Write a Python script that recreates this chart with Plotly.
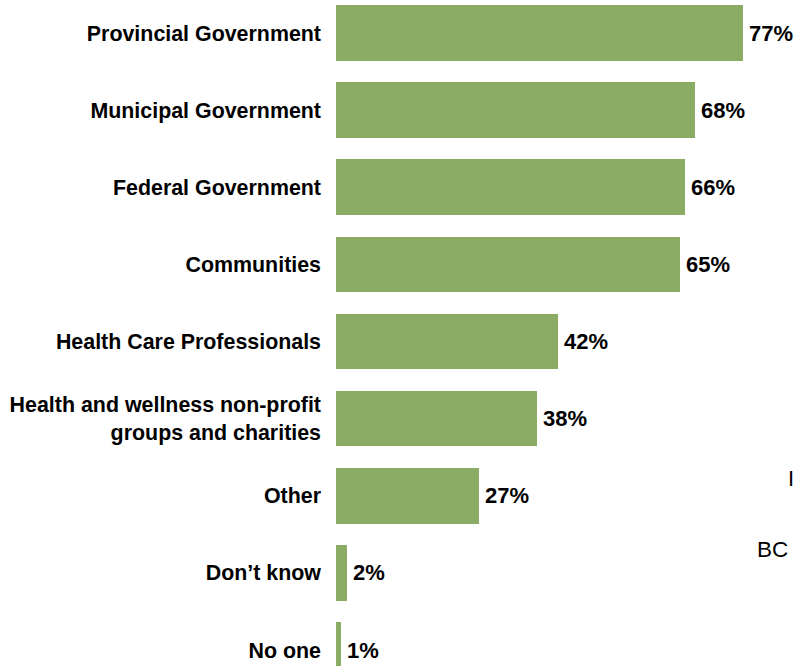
import plotly.graph_objects as go

# Who should be responsible — share of respondents naming each group
categories = [
    "Provincial Government",
    "Municipal Government",
    "Federal Government",
    "Communities",
    "Health Care Professionals",
    "Health and wellness non-profit<br>groups and charities",
    "Other",
    "Don\u2019t know",
    "No one",
]
values = [77, 68, 66, 65, 42, 38, 27, 2, 1]
value_labels = [f"{v}%" for v in values]

BAR_COLOR = "#8aac64"
FONT = "Liberation Sans, Arial, sans-serif"
W, H = 794, 666
LEFT = 336

positions = list(range(len(categories)))

fig = go.Figure(
    go.Bar(
        x=values,
        y=positions,
        orientation="h",
        marker=dict(color=BAR_COLOR, line=dict(width=0)),
        width=0.72,
        hoverinfo="skip",
    )
)

# Value labels just past the end of each bar
for pos, v, lab in zip(positions, values, value_labels):
    fig.add_annotation(
        x=v, y=pos, xref="x", yref="y", text=f"<b>{lab}</b>",
        showarrow=False, xanchor="left", yanchor="middle", xshift=4,
        font=dict(family=FONT, size=22, color="#000000"),
    )

fig.update_layout(
    width=W,
    height=H,
    margin=dict(l=LEFT, r=0, t=0, b=0),
    paper_bgcolor="#ffffff",
    plot_bgcolor="#ffffff",
    showlegend=False,
    font=dict(family=FONT, size=21, color="#000000"),
    bargap=0,
)

fig.update_xaxes(range=[0, 86.65], visible=False, showgrid=False, zeroline=False)

fig.update_yaxes(
    tickmode="array",
    tickvals=positions,
    ticktext=[f"<b>{c}</b>" for c in categories],
    range=[8.2075, -0.428],
    showgrid=False,
    zeroline=False,
    showline=False,
    ticks="",
    ticklabelstandoff=14,
    tickfont=dict(family=FONT, size=21.4, color="#000000"),
)

# Fragments of neighbouring slide text at the right edge
plot_w = W - LEFT


def px_x(x):
    return (x - LEFT) / plot_w


def px_y(y):
    return 1 - y / H


fig.add_annotation(text="I", x=px_x(786), y=px_y(478), xref="paper", yref="paper",
                   showarrow=False, xanchor="left", yanchor="middle",
                   font=dict(family=FONT, size=22, color="#000000"))
fig.add_annotation(text="BC", x=px_x(755), y=px_y(549), xref="paper", yref="paper",
                   showarrow=False, xanchor="left", yanchor="middle",
                   font=dict(family=FONT, size=22.5, color="#000000"))

fig.write_html("out.html")
